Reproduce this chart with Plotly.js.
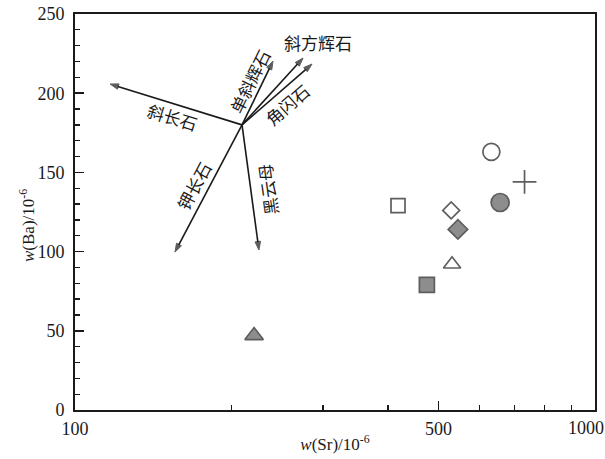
<!DOCTYPE html>
<html>
<head>
<meta charset="utf-8">
<script src="https://cdn.plot.ly/plotly-3.0.1.min.js"></script>
<style>html,body{margin:0;padding:0;background:#fff}#chart{width:605px;height:459px}</style>
</head>
<body>
<div id="chart"></div>
<script>
// Sample points
const sampleSr = [418, 529, 545, 531, 475, 632, 657, 732, 221];
const sampleBa = [129, 126, 114, 92, 79, 163, 131, 144, 47];
const sampleSymbols = ['square-open', 'diamond-open', 'diamond', 'triangle-up-open', 'square', 'circle-open', 'circle', 'cross-thin-open', 'triangle-up'];
const sampleSizes = [14, 13, 15, 15, 15, 17, 18, 17, 16];
const sampleColors = ['#1a1a1a', '#1a1a1a', '#5e5e5e', '#1a1a1a', '#5e5e5e', '#1a1a1a', '#5e5e5e', '#1a1a1a', '#5e5e5e'];

// Mineral fractionation vectors (origin and tips)
const vecOriginSr = 209.5;
const vecOriginBa = 180;
const vecLabels = ['斜长石', '单斜辉石', '斜方辉石', '角闪石', '钾长石', '黑云母'];
const vecTipSr = [116.8, 240.3, 274.5, 285.6, 155.7, 225.8];
const vecTipBa = [205.8, 220.3, 222.2, 218.4, 99.7, 101];

// Tick labels
const xTickVals = [100, 500, 1000];
const xTickText = ['100', '500', ''];
const xEndLabel = '1000';
const xMinorVals = [200, 300, 400, 600, 700, 800, 900];
const yTickVals = [0, 50, 100, 150, 200, 250];
const yTitle = '<i>w</i>(Ba)/10<sup>-6</sup>';
const xTitle = '<i>w</i>(Sr)/10<sup>-6</sup>';

// label placement (pixel centres) and angles
const labelPos = [
  {px: 172, py: 117, ang: 17},
  {px: 249, py: 81, ang: -64},
  {px: 318, py: 43, ang: 0},
  {px: 287, py: 105, ang: -41},
  {px: 193, py: 186, ang: -62},
  {px: 267, py: 190, ang: -98}
];

const L = 75, R = 595, T = 14, B = 410;
const toPx = (px) => (px - L) / (R - L);
const toPy = (py) => (B - py) / (B - T);

const serif = 'Liberation Serif, Times New Roman, serif';
const cjk = 'Noto Sans CJK SC, sans-serif';
const ink = '#1a1a1a';

const traces = [];
const annotations = [];
vecLabels.forEach((lab, i) => {
  traces.push({
    type: 'scatter', mode: 'lines+markers',
    x: [vecOriginSr, vecTipSr[i]], y: [vecOriginBa, vecTipBa[i]],
    line: {color: ink, width: 1.6},
    marker: {symbol: ['circle', 'arrow'], size: [0, 9], angleref: 'previous',
             color: ink, line: {color: ink, width: 1}},
    hoverinfo: 'skip', name: lab
  });
  const p = labelPos[i];
  annotations.push({
    x: toPx(p.px), y: toPy(p.py), xref: 'paper', yref: 'paper',
    xanchor: 'center', yanchor: 'middle',
    text: lab, showarrow: false, textangle: p.ang,
    font: {family: cjk, size: 17, color: ink}
  });
});
// y-axis title
annotations.push({
  x: toPx(27), y: toPy(226), xref: 'paper', yref: 'paper',
  xanchor: 'center', yanchor: 'middle', showarrow: false, textangle: -90,
  text: yTitle, font: {family: serif, size: 17, color: ink}
});
// last x tick label, pulled inside the page edge as in the reference
annotations.push({
  x: toPx(586), y: toPy(428), xref: 'paper', yref: 'paper',
  xanchor: 'center', yanchor: 'middle', showarrow: false,
  text: xEndLabel, font: {family: serif, size: 18, color: ink}
});

traces.push({
  type: 'scatter', mode: 'markers',
  x: sampleSr, y: sampleBa,
  marker: {
    symbol: sampleSymbols, size: sampleSizes,
    color: sampleColors,
    line: {color: ink, width: 1.7}
  },
  hoverinfo: 'x+y'
});

const layout = {
  width: 605, height: 459,
  margin: {l: L, r: 605 - R, t: T, b: 459 - B},
  paper_bgcolor: '#fff', plot_bgcolor: '#fff',
  showlegend: false,
  font: {family: serif, size: 18, color: ink},
  xaxis: {
    type: 'log', range: [1.99999, 3.00001],
    tickmode: 'array', tickvals: xTickVals, ticktext: xTickText,
    ticks: 'inside', ticklen: 9, tickwidth: 1.5, tickcolor: ink,
    ticklabelstandoff: 1,
    minor: {tickmode: 'array', tickvals: xMinorVals, ticks: 'inside', ticklen: 5, tickwidth: 1.3, tickcolor: ink, showgrid: false},
    showline: true, mirror: true, linecolor: ink, linewidth: 2,
    showgrid: false, zeroline: false,
    tickfont: {family: serif, size: 18, color: ink},
    title: {text: xTitle, font: {family: serif, size: 17, color: ink}, standoff: 1}
  },
  yaxis: {
    range: [0, 250],
    tickmode: 'array', tickvals: yTickVals,
    ticks: 'inside', ticklen: 9, tickwidth: 1.5, tickcolor: ink,
    ticklabelstandoff: 5,
    minor: {dtick: 10, ticks: 'inside', ticklen: 5, tickwidth: 1.3, tickcolor: ink, showgrid: false},
    showline: true, mirror: true, linecolor: ink, linewidth: 2,
    showgrid: false, zeroline: false,
    tickfont: {family: serif, size: 18, color: ink}
  },
  annotations: annotations
};

Plotly.newPlot('chart', traces, layout, {displayModeBar: false, staticPlot: true});
</script>
</body>
</html>
